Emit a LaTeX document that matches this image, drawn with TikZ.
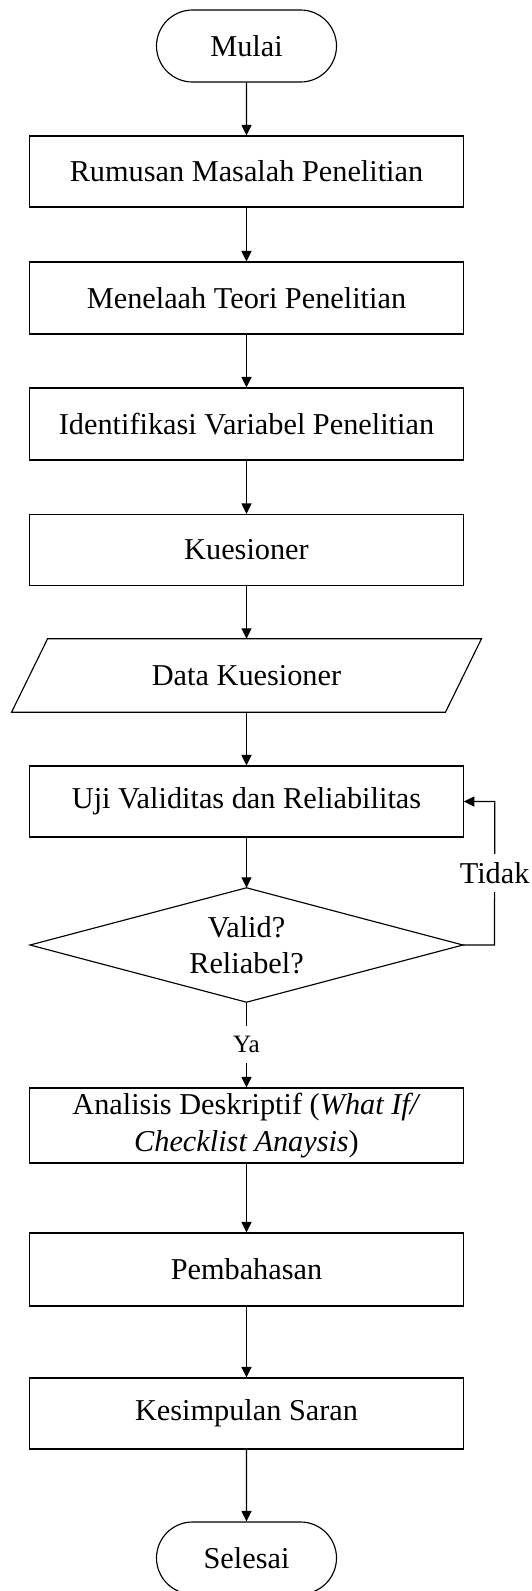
\documentclass[tikz,border=0pt]{standalone}
\usepackage{fontspec}
\setmainfont{Liberation Serif}
\usetikzlibrary{arrows.meta,shapes.misc}
\begin{document}
\begin{tikzpicture}[x=1pt,y=-1pt,
  every node/.style={font=\fontsize{30.3}{36.5}\selectfont, inner sep=0pt},
  procbox/.style={draw, line width=1.15pt, rectangle, minimum width=433.5pt, minimum height=72pt, align=center},
  termbox/.style={draw, line width=1.15pt, rounded rectangle, minimum width=180pt, minimum height=72pt},
  ghost/.style={rectangle, minimum width=433.5pt, align=center},
  outline/.style={draw, line width=1.15pt, line join=miter},
  arr/.style={draw, line width=1.15pt, -{Triangle[length=10.5pt,width=10pt]}},
  lbl/.style={fill=white, inner sep=2pt}
]
\useasboundingbox (0,0) rectangle (532,1591);

\node[termbox] (start) at (246.5,46) {Mulai};
\node[procbox, minimum height=71pt] (b1) at (246.5,171.5) {Rumusan Masalah Penelitian};
\node[procbox] (b2) at (246.5,298) {Menelaah Teori Penelitian};
\node[procbox] (b3) at (246.5,424) {Identifikasi Variabel Penelitian};
\node[procbox, minimum height=71pt] (b4) at (246.5,550) {Kuesioner};
\node[ghost, minimum height=73pt] (data) at (246.5,675.5) {Data Kuesioner};
\draw[outline] ([xshift=18pt]data.north west) -- ([xshift=18pt]data.north east)
   -- ([xshift=-18pt]data.south east) -- ([xshift=-18pt]data.south west) -- cycle;
\node[procbox, minimum height=71pt] (b5) at (246.5,801.5) {Uji Validitas dan Reliabilitas};
\node[ghost, minimum width=432.5pt, minimum height=114pt] (dia) at (246.5,945) {Valid?\\Reliabel?};
\draw[outline] (dia.north) -- (dia.east) -- (dia.south) -- (dia.west) -- cycle;
\node[procbox, minimum height=75pt] (b6) at (246.5,1125.5) {Analisis Deskriptif (\textit{What If/}\\\textit{Checklist Anaysis})};
\node[procbox, minimum height=73pt] (b7) at (246.5,1269.5) {Pembahasan};
\node[procbox, minimum height=71pt] (b8) at (246.5,1413.5) {Kesimpulan Saran};
\node[termbox] (stop) at (246.5,1558) {Selesai};

\draw[arr] (start) -- (b1);
\draw[arr] (b1) -- (b2);
\draw[arr] (b2) -- (b3);
\draw[arr] (b3) -- (b4);
\draw[arr] (b4) -- (data);
\draw[arr] (data) -- (b5);
\draw[arr] (b5) -- (dia);
\draw[arr] (dia.south) -- node[lbl, minimum height=37pt, font=\fontsize{25}{28}\selectfont] {Ya} (b6.north);
\draw[arr] (dia.east) -- ++(31.5,0) -- node[lbl, minimum height=38pt] {Tidak} ([xshift=31pt]b5.east) -- (b5.east);
\draw[arr] (b6) -- (b7);
\draw[arr] (b7) -- (b8);
\draw[arr] (b8) -- (stop);
\end{tikzpicture}
\end{document}
